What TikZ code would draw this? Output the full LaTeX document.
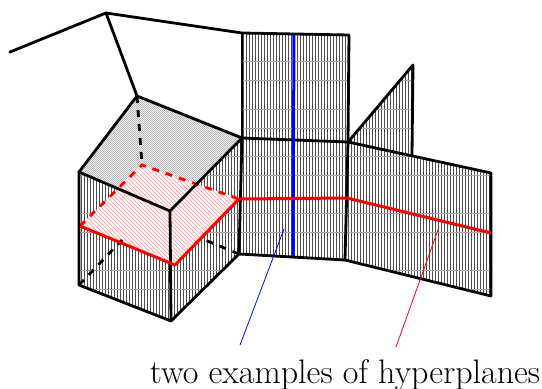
\documentclass[tikz,border=0pt]{standalone}
\tikzset{
  edge/.style={black,line width=2.8pt,line join=round,line cap=round},
  dashedge/.style={black,line width=2.8pt,dash pattern=on 7pt off 7pt},
  redline/.style={red,line width=3pt,line join=round},
  reddash/.style={red,line width=2.8pt,dash pattern=on 7pt off 7pt},
  thin line/.style={line width=0.8pt},
}
\newcommand{\vhatch}[1]{%
  \begin{scope}
    \clip #1;
    \foreach \x in {60.5,63.5,...,500} {\draw[black!70,line width=1.3pt] (\x,20) -- (\x,330);}
    \foreach \y in {61,80,109,128,156,175,213,232,270,289} {\draw[black!35,line width=0.3pt] (60,\y) -- (500,\y);}
  \end{scope}}
\newcommand{\dhatch}[4]{%
  \begin{scope}
    \clip #1;
    \foreach \x in {-300,#4,...,500} {\draw[#2,line width=#3] (\x,90) -- (\x+240,330);}
  \end{scope}}
\begin{document}
\begin{tikzpicture}[x=1pt,y=-1pt]
\useasboundingbox (0,0) rectangle (542,389);
\coordinate (A) at (10,52); \coordinate (B) at (106,13); \coordinate (C) at (242,33);
\coordinate (D) at (349,35); \coordinate (E) at (137,96); \coordinate (F) at (242,138);
\coordinate (G) at (348,142); \coordinate (H) at (413,65); \coordinate (I) at (412,155);
\coordinate (J) at (491,173); \coordinate (K) at (491,296); \coordinate (L) at (345,260);
\coordinate (M) at (239,254); \coordinate (N) at (170,211); \coordinate (O) at (79,172);
\coordinate (P) at (79,285); \coordinate (Q) at (171,321); \coordinate (R) at (142,165);
% hatching
\vhatch{(C)--(D)--(G)--(F)--cycle}
\vhatch{(G)--(H)--(I)--cycle}
\vhatch{(F)--(G)--(L)--(M)--cycle}
\vhatch{(G)--(J)--(K)--(L)--cycle}
\vhatch{(O)--(N)--(Q)--(P)--cycle}
\vhatch{(N)--(F)--(M)--(Q)--cycle}
\fill[white] (E)--(F)--(N)--(O)--cycle;
\dhatch{(E)--(F)--(N)--(O)--cycle}{black!32}{0.6pt}{-298}
\fill[white] (80,226)--(R)--(239,199)--(175,265)--cycle;
\dhatch{(80,226)--(R)--(239,199)--(175,265)--cycle}{red!32}{0.9pt}{-296}
% hidden edges
\draw[dashedge] (E) -- (R);
\draw[dashedge] (P) -- (122,240);
\draw[dashedge] (M) -- (200,238);
% hyperplanes (dashed part lies behind the solid edges)
\draw[reddash] (80,226) -- (R) -- (239,199);
% solid edges
\draw[edge] (A) -- (B) -- (C) -- (D) -- (G);
\draw[edge] (B) -- (E);
\draw[edge] (C) -- (F);
\draw[edge] (E) -- (F) -- (N) -- (O) -- cycle;
\draw[edge] (F) -- (G) -- (H) -- (I);
\draw[edge] (G) -- (J) -- (K) -- (L) -- cycle;
\draw[edge] (F) -- (M) -- (L);
\draw[edge] (O) -- (P) -- (Q) -- (N);
\draw[edge] (Q) -- (M);
\draw[blue,line width=3pt] (294,35) -- (293,256);
\draw[redline] (80,226) -- (175,265) -- (239,199) -- (347,198) -- (491,233);
% label and leaders
\node[anchor=base,inner sep=0pt,font=\fontsize{34}{38}\selectfont] (label) at (345,383) {two examples of hyperplanes};
\coordinate (b1) at (240,345); \coordinate (b2) at (284,229);
\coordinate (r1) at (396,347); \coordinate (r2) at (439,227);
\draw[blue,thin line] (b1) -- (b2);
\draw[red,thin line] (r1) -- (r2);
\end{tikzpicture}
\end{document}
